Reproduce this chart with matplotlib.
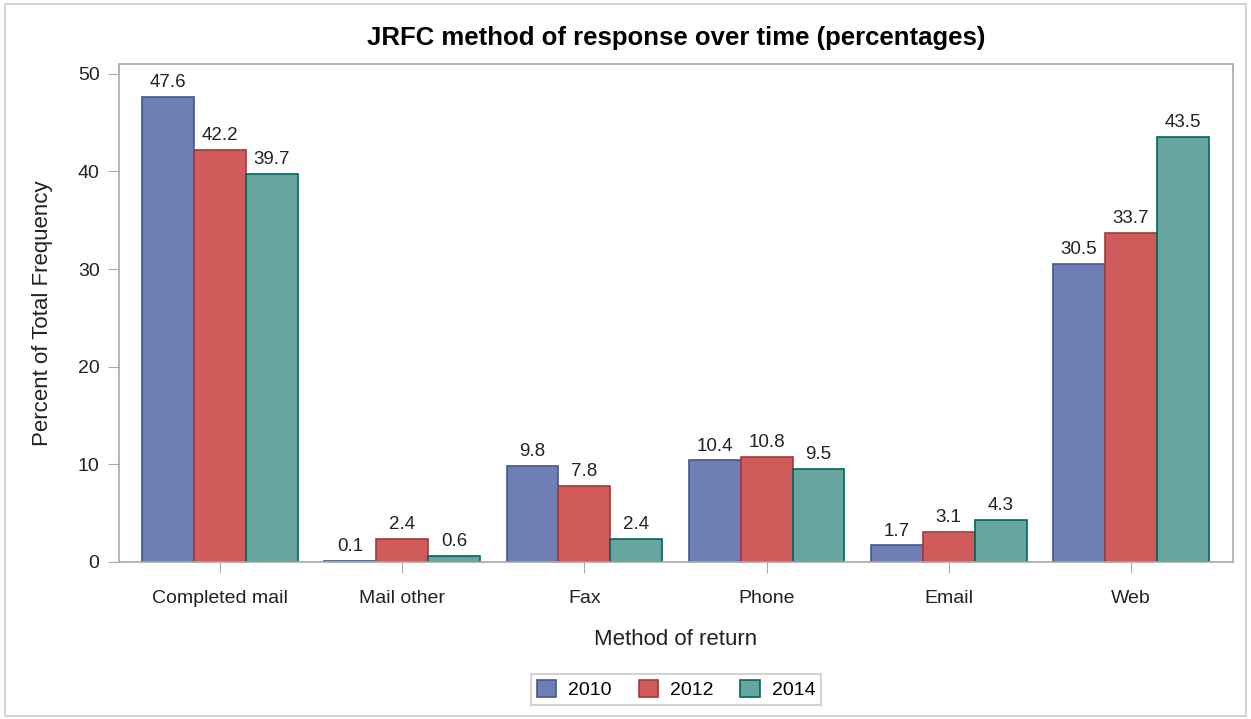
import matplotlib
matplotlib.use('Agg')
import matplotlib.pyplot as plt
import numpy as np
from matplotlib.patches import Rectangle

plt.rcParams['font.family'] = ['Liberation Sans', 'DejaVu Sans']

categories = ['Completed mail', 'Mail other', 'Fax', 'Phone', 'Email', 'Web']
years = ['2010', '2012', '2014']
pct_2010 = [47.6, 0.1, 9.8, 10.4, 1.7, 30.5]
pct_2012 = [42.2, 2.4, 7.8, 10.8, 3.1, 33.7]
pct_2014 = [39.7, 0.6, 2.4, 9.5, 4.3, 43.5]

fills = ['#6F7EB3', '#D05B5B', '#66A5A0']
edges = ['#445694', '#A23A3A', '#01665E']
grey = '#A8A8A8'
ink = '#222222'

fig = plt.figure(figsize=(12.51, 7.19), dpi=100)
ax = fig.add_axes([0.0951, 0.2184, 0.8905, 0.6926])

# light frame round the whole picture
fig.patches.append(Rectangle((0.004, 0.004), 0.992, 0.991, transform=fig.transFigure,
                             fill=False, edgecolor='#D4D4D4', linewidth=1.5))

x = np.arange(len(categories))
w = 0.285
for i, vals in enumerate([pct_2010, pct_2012, pct_2014]):
    pos = x + (i - 1) * w
    ax.bar(pos, vals, w, color=fills[i], edgecolor=edges[i], linewidth=1.2, label=years[i])
    for xp, v in zip(pos, vals):
        ax.text(xp, v + 0.6, f'{v:.1f}', ha='center', va='bottom', fontsize=13.5, color=ink)

ax.set_xlim(-0.555, 5.56)
ax.set_ylim(0, 51)
ax.set_yticks([0, 10, 20, 30, 40, 50])
ax.set_xticks(x)
ax.set_xticklabels(categories)
ax.tick_params(axis='both', direction='out', length=8, color=grey, labelsize=14, labelcolor=ink, pad=6)
ax.tick_params(axis='x', pad=12)

for s in ax.spines.values():
    s.set_color(grey)
    s.set_linewidth(1.2)

ax.set_xlabel('Method of return', fontsize=16, color=ink, labelpad=16)
ax.set_ylabel('Percent of Total Frequency', fontsize=16, color=ink, labelpad=18)
ax.set_title('JRFC method of response over time (percentages)', fontsize=18.5, fontweight='bold', pad=14)

leg = ax.legend(loc='upper center', bbox_to_anchor=(0.5, -0.205), ncol=3, frameon=True,
                fancybox=False, fontsize=14, handlelength=1.0, handleheight=1.0,
                columnspacing=1.4, handletextpad=0.6, borderpad=0.3)
leg.get_frame().set_edgecolor('#C8C8C8')
leg.get_frame().set_linewidth(1.5)

fig.savefig('out.png', dpi=100)
